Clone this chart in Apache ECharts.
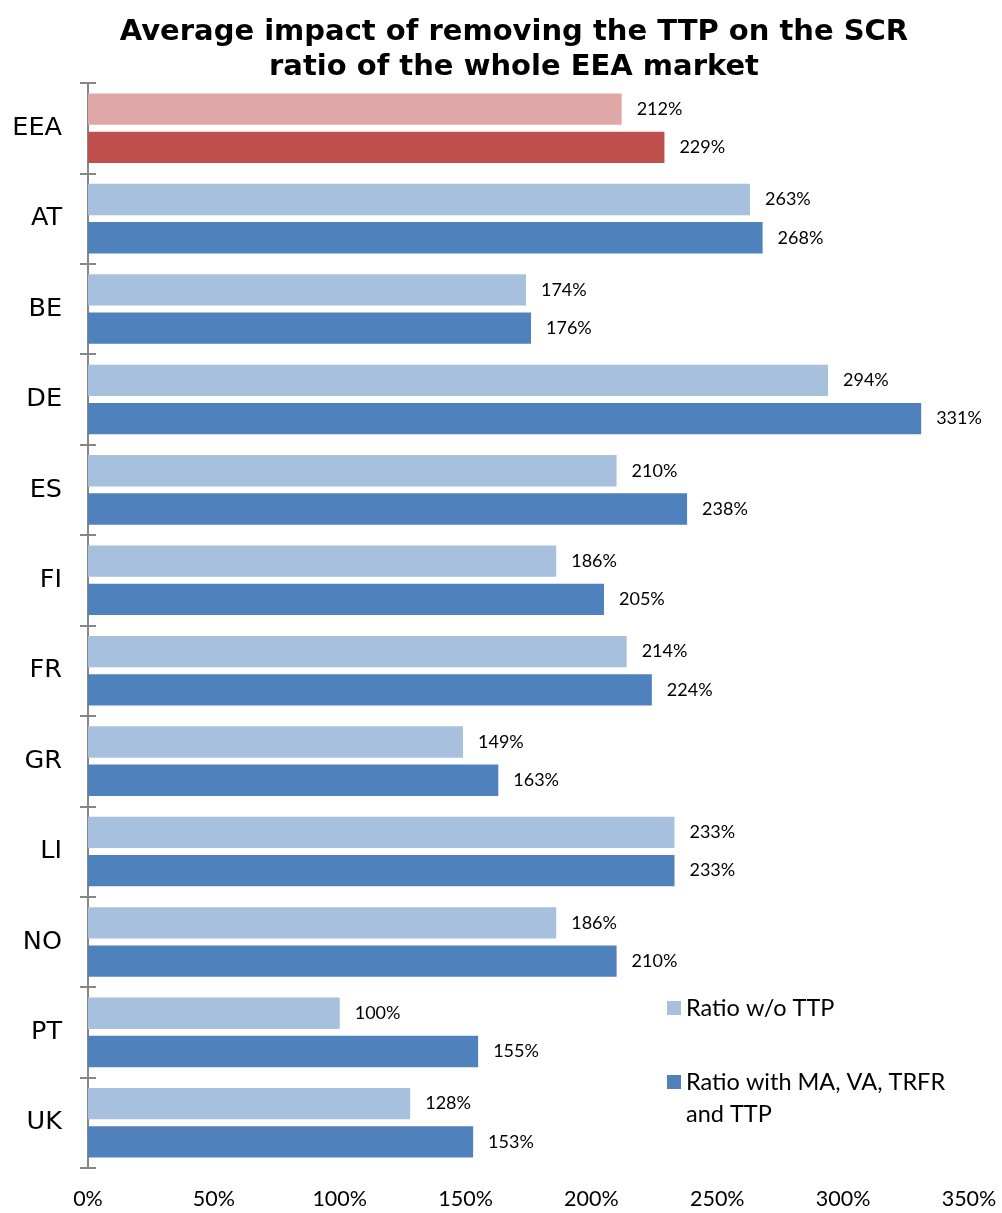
<!DOCTYPE html>
<html>
<head>
<meta charset="utf-8">
<script src="https://cdn.jsdelivr.net/npm/echarts@6/dist/echarts.min.js"></script>
<style>
  html, body { margin: 0; padding: 0; background: #fff; }
  #chart { width: 1002px; height: 1213px; }
</style>
</head>
<body>
<div id="chart"></div>
<script>
// Countries, top to bottom
const categories = ['EEA', 'AT', 'BE', 'DE', 'ES', 'FI', 'FR', 'GR', 'LI', 'NO', 'PT', 'UK'];
// SCR ratio (%) without the transitional measure on technical provisions
const ratioWithoutTTP = [212, 263, 174, 294, 210, 186, 214, 149, 233, 186, 100, 128];
// SCR ratio (%) with all long-term guarantee measures and the TTP
const ratioWithAll = [229, 268, 176, 331, 238, 205, 224, 163, 233, 210, 155, 153];
// Axis tick labels (%)
const xTicks = [0, 50, 100, 150, 200, 250, 300, 350];

const seriesNames = ['Ratio w/o TTP', 'Ratio with MA, VA, TRFR and TTP'];
const lightBlue = '#A7C0DE', darkBlue = '#4F81BD';
const lightRed = '#DFA7A6', darkRed = '#C0504D';
const axisGrey = '#868686';

// The EEA aggregate is highlighted in red
function toData(values, eeaColor) {
  return values.map((v, i) => categories[i] === 'EEA'
    ? { value: v, itemStyle: { color: eeaColor } }
    : v);
}

const labelStyle = {
  show: true,
  position: 'right',
  distance: 15,
  formatter: p => p.value + '%',
  fontFamily: 'Lato',
  fontSize: 18,
  color: '#000'
};

const legendText = {
  fontFamily: 'Lato',
  fontSize: 23.5,
  lineHeight: 32,
  color: '#000'
};

const chart = echarts.init(document.getElementById('chart'));
chart.setOption({
  animation: false,
  title: {
    text: 'Average impact of removing the TTP on the SCR\nratio of the whole EEA market',
    left: 509,
    textAlign: 'center',
    top: 10,
    textStyle: {
      fontFamily: 'DejaVu Sans',
      fontWeight: 'bold',
      fontSize: 29,
      lineHeight: 35,
      color: '#000'
    }
  },
  legend: [
    {
      orient: 'vertical',
      left: 662,
      top: 987,
      itemWidth: 14,
      itemHeight: 14,
      icon: 'rect',
      data: [seriesNames[0]],
      textStyle: legendText
    },
    {
      // two-line entry; an empty leading line keeps the swatch beside the first text line
      orient: 'vertical',
      left: 662,
      top: 1029,
      itemWidth: 14,
      itemHeight: 14,
      icon: 'rect',
      data: [seriesNames[1]],
      formatter: () => '\nRatio with MA, VA, TRFR\nand TTP',
      textStyle: legendText
    }
  ],
  grid: { left: 88, right: 33, top: 83, bottom: 45, containLabel: false },
  xAxis: {
    type: 'value',
    min: xTicks[0],
    max: xTicks[xTicks.length - 1],
    interval: 50,
    axisLine: { show: false },
    axisTick: { show: false },
    splitLine: { show: false },
    axisLabel: {
      formatter: v => v + '%',
      fontFamily: 'Lato',
      fontSize: 21.5,
      color: '#000',
      margin: 20
    }
  },
  yAxis: [
    {
      type: 'category',
      data: categories,
      inverse: true,
      axisLine: { show: true, lineStyle: { color: axisGrey, width: 2 } },
      axisTick: { show: true, length: 8, lineStyle: { color: axisGrey, width: 2 } },
      axisLabel: {
        fontFamily: 'DejaVu Sans',
        fontSize: 25.5,
        color: '#000',
        margin: 26
      }
    },
    {
      // inner half of the crossing ticks
      type: 'category',
      data: categories,
      inverse: true,
      position: 'left',
      axisLine: { show: false },
      axisTick: { show: true, inside: true, length: 8, lineStyle: { color: axisGrey, width: 2 } },
      axisLabel: { show: false }
    }
  ],
  series: [
    {
      name: seriesNames[0],
      type: 'bar',
      data: toData(ratioWithoutTTP, lightRed),
      itemStyle: { color: lightBlue },
      barCategoryGap: '23%',
      barGap: '22%',
      label: labelStyle
    },
    {
      name: seriesNames[1],
      type: 'bar',
      data: toData(ratioWithAll, darkRed),
      itemStyle: { color: darkBlue },
      barCategoryGap: '23%',
      barGap: '22%',
      label: labelStyle
    }
  ]
});
</script>
</body>
</html>
